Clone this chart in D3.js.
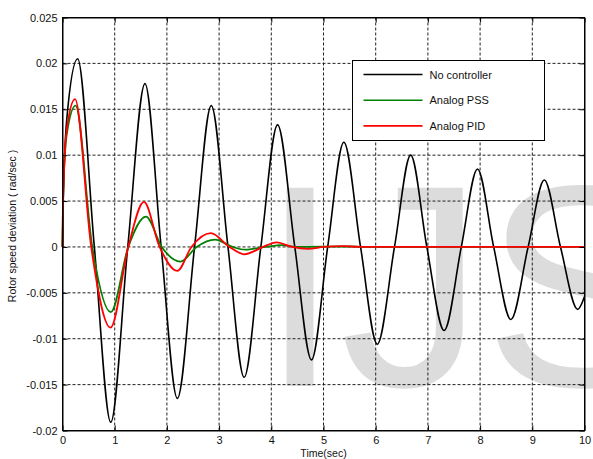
<!DOCTYPE html>
<html>
<head>
<meta charset="utf-8">
<script src="https://cdn.jsdelivr.net/npm/d3@7"></script>
<style>
  body { margin: 0; background: #fff; }
  svg { display: block; font-family: "Liberation Sans", Arial, sans-serif; }
</style>
</head>
<body>
<div id="plot"></div>
<script>
// data: [time (sec), deviation (rad/sec)]
var noController = [
    [0, 0], [0.01, 0.004], [0.08, 0.0138], [0.29, 0.0205], [0.61, 0], [0.925, -0.0191],
    [1.25, 0], [1.58, 0.0178], [1.89, 0], [2.20, -0.0165], [2.53, 0], [2.85, 0.0154],
    [3.17, 0], [3.48, -0.0142], [3.80, 0], [4.12, 0.0133], [4.45, 0], [4.77, -0.0123],
    [5.08, 0], [5.39, 0.0114], [5.71, 0], [6.03, -0.0106], [6.36, 0], [6.67, 0.0100],
    [6.98, 0], [7.31, -0.0091], [7.64, 0], [7.95, 0.0085], [8.26, 0], [8.59, -0.0079],
    [8.92, 0], [9.23, 0.0073], [9.54, 0], [9.87, -0.0068], [10, -0.0054]
];
var analogPSS = [
    [0, 0], [0.01, 0.005], [0.08, 0.0122], [0.25, 0.0154], [0.57, 0], [0.925, -0.0071],
    [1.26, 0], [1.60, 0.0033], [1.90, 0], [2.26, -0.0016], [2.57, 0], [2.92, 0.0008],
    [3.26, 0], [3.50, -0.0003], [3.88, 0], [4.2, 0.0002], [4.5, 0], [5.4, 0.00005],
    [5.8, 0], [10, 0]
];
var analogPID = [
    [0, 0], [0.01, 0.005], [0.08, 0.0127], [0.24, 0.0161], [0.55, 0], [0.92, -0.0088],
    [1.26, 0], [1.56, 0.0049], [1.86, 0], [2.20, -0.0026], [2.47, 0], [2.84, 0.0015],
    [3.20, 0], [3.48, -0.0008], [3.84, 0], [4.10, 0.0005], [4.40, 0], [4.70, -0.0002],
    [5.0, 0], [5.38, 0.0001], [5.7, 0], [10, 0]
];

var xTicks = [0, 1, 2, 3, 4, 5, 6, 7, 8, 9, 10];
var xTickLabels = ["0", "1", "2", "3", "4", "5", "6", "7", "8", "9", "10"];
var yTicks = [-0.02, -0.015, -0.01, -0.005, 0, 0.005, 0.01, 0.015, 0.02, 0.025];
var yTickLabels = ["-0.02", "-0.015", "-0.01", "-0.005", "0", "0.005", "0.01", "0.015", "0.02", "0.025"];

var seriesNames = ["No controller", "Analog PSS", "Analog PID"];
var seriesColors = ["#000000", "#008000", "#ff0000"];
var seriesData = [noController, analogPSS, analogPID];

// workspace
var svgWidth = 593;
var svgHeight = 459;
var margin = { top: 17.5, right: 8.5, bottom: 28.5, left: 62.5 };
var width = svgWidth - margin.left - margin.right;
var height = svgHeight - margin.top - margin.bottom;

var svg = d3.select("#plot")
    .append("svg")
    .attr("width", svgWidth)
    .attr("height", svgHeight);

svg.append("rect").attr("width", svgWidth).attr("height", svgHeight).attr("fill", "#fff");

// watermark sits under everything
svg.append("text")
    .attr("x", 260)
    .attr("y", 386)
    .attr("font-size", 288)
    .attr("fill", "#dcdcdc")
    .text("IJS");

var chartGroup = svg.append("g")
    .attr("transform", `translate(${margin.left}, ${margin.top})`);

// scales
var xScale = d3.scaleLinear().domain([0, 10]).range([0, width]);
var yScale = d3.scaleLinear().domain([-0.02, 0.025]).range([height, 0]);

// grid
chartGroup.append("g").selectAll("line")
    .data(xTicks.slice(1, -1))
    .enter().append("line")
    .attr("x1", d => xScale(d)).attr("x2", d => xScale(d))
    .attr("y1", 0).attr("y2", height)
    .attr("stroke", "#222").attr("stroke-dasharray", "3,2");

chartGroup.append("g").selectAll("line")
    .data(yTicks.slice(1, -1))
    .enter().append("line")
    .attr("x1", 0).attr("x2", width)
    .attr("y1", d => yScale(d)).attr("y2", d => yScale(d))
    .attr("stroke", "#222").attr("stroke-dasharray", "3,2");

// curves
var lineGenerator = d3.line()
    .x(d => xScale(d[0]))
    .y(d => yScale(d[1]))
    .curve(d3.curveMonotoneX);

seriesData.forEach((data, i) => {
    chartGroup.append("path")
        .attr("d", lineGenerator(data))
        .attr("fill", "none")
        .attr("stroke", seriesColors[i])
        .attr("stroke-width", i == 0 ? 1.6 : 1.8)
        .attr("stroke-linejoin", "round");
});

// axes, ticks pointing inward like matlab
var fmtX = (d, i) => xTickLabels[i];
var fmtY = (d, i) => yTickLabels[i];

var bottomAxis = chartGroup.append("g")
    .attr("transform", `translate(0, ${height})`)
    .call(d3.axisBottom(xScale).tickValues(xTicks).tickFormat(fmtX).tickSizeInner(-5).tickSizeOuter(0).tickPadding(6));
var leftAxis = chartGroup.append("g")
    .call(d3.axisLeft(yScale).tickValues(yTicks).tickFormat(fmtY).tickSizeInner(-5).tickSizeOuter(0).tickPadding(5));
chartGroup.append("g")
    .call(d3.axisTop(xScale).tickValues(xTicks).tickFormat("").tickSizeInner(-5).tickSizeOuter(0));
chartGroup.append("g")
    .attr("transform", `translate(${width}, 0)`)
    .call(d3.axisRight(yScale).tickValues(yTicks).tickFormat("").tickSizeInner(-5).tickSizeOuter(0));

chartGroup.selectAll(".domain, .tick line").attr("stroke", "#000");
chartGroup.selectAll(".tick text")
    .attr("font-size", 11)
    .attr("font-family", "Liberation Sans, Arial, sans-serif")
    .attr("fill", "#111");

// box
chartGroup.append("rect")
    .attr("width", width).attr("height", height)
    .attr("fill", "none").attr("stroke", "#000");

// axis titles
svg.append("text")
    .attr("x", margin.left + width / 2)
    .attr("y", 457)
    .attr("text-anchor", "middle")
    .attr("font-size", 10.5)
    .attr("fill", "#111")
    .text("Time(sec)");

svg.append("text")
    .attr("transform", `translate(16, ${margin.top + height / 2 + 2}) rotate(-90)`)
    .attr("text-anchor", "middle")
    .attr("font-size", 10.5)
    .attr("fill", "#111")
    .text("Rotor speed deviation ( rad/sec )");

// legend
var legend = svg.append("g").attr("transform", "translate(352.5, 60.5)");
legend.append("rect")
    .attr("width", 192).attr("height", 80)
    .attr("fill", "#fff").attr("stroke", "#000");

seriesNames.forEach((name, i) => {
    var y = 14 + i * 25.7;
    legend.append("line")
        .attr("x1", 11).attr("x2", 70)
        .attr("y1", y).attr("y2", y)
        .attr("stroke", seriesColors[i]).attr("stroke-width", 1.6);
    legend.append("text")
        .attr("x", 77).attr("y", y + 4)
        .attr("font-size", 11)
        .attr("fill", "#111")
        .text(name);
});
</script>
</body>
</html>
